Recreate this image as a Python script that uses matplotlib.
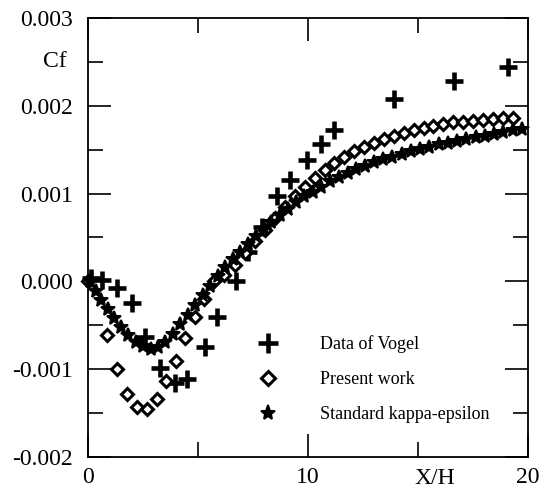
import matplotlib
matplotlib.use("Agg")
import matplotlib.pyplot as plt
import matplotlib.transforms as mtransforms

plt.rcParams['font.family'] = ['Liberation Serif', 'DejaVu Serif']

# Skin friction coefficient behind a backward-facing step
vogel_x = [0.12, 0.65, 1.33, 2.01, 2.58, 3.27, 3.95, 4.48, 5.32, 5.88, 6.73,
           7.29, 7.93, 8.58, 9.18, 9.95, 10.6, 11.2, 13.9, 16.65, 19.1]
vogel_cf = [0.00004, 0.00002, -0.00008, -0.00025, -0.00063, -0.00099, -0.00116,
            -0.00111, -0.00075, -0.00040, 0.00000, 0.00034, 0.00062, 0.00097,
            0.00115, 0.00138, 0.00156, 0.00173, 0.00208, 0.00228, 0.00244]

present_x = [0.0, 0.85, 1.33, 1.77, 2.21, 2.67, 3.12, 3.55, 3.98, 4.41,
             4.86, 5.28, 5.72, 6.2, 6.7, 7.15, 7.6, 8.05, 8.5, 8.95, 9.4, 9.85,
             10.3, 10.75, 11.2, 11.65, 12.1, 12.55, 13.0, 13.45, 13.9, 14.35,
             14.8, 15.25, 15.7, 16.15, 16.6, 17.05, 17.5, 17.95, 18.4, 18.85, 19.3]
present_cf = [0.0, -0.00061, -0.00100, -0.00128, -0.00143, -0.00145,
              -0.00134, -0.00114, -0.00091, -0.00065, -0.00041, -0.00020, 0.00000,
              0.00007, 0.00019, 0.00032, 0.00046, 0.00059, 0.00072, 0.00085,
              0.00097, 0.00108, 0.00118, 0.00127, 0.00135, 0.00142, 0.00148,
              0.00153, 0.00158, 0.00162, 0.00166, 0.00169, 0.00172, 0.00175,
              0.00177, 0.00179, 0.00181, 0.00182, 0.00183, 0.00184, 0.00185,
              0.00186, 0.00186]

keps_x = [0.10, 0.35, 0.60, 0.90, 1.20, 1.52, 1.84, 2.18, 2.51, 2.85, 3.18,
          3.52, 3.86, 4.20, 4.54, 4.88, 5.22, 5.56, 5.90, 6.24, 6.58, 6.92,
          7.27, 7.62, 7.98, 8.34, 8.71, 9.08, 9.46, 9.84, 10.22, 10.61, 11.0,
          11.4, 11.8, 12.2, 12.6, 13.0, 13.42, 13.84, 14.26, 14.68, 15.1,
          15.52, 15.94, 16.36, 16.78, 17.2, 17.62, 18.04, 18.46, 18.88, 19.3,
          19.72]
keps_cf = [0.0, -0.00011, -0.00021, -0.00031, -0.00042, -0.00052, -0.00061,
           -0.00069, -0.00074, -0.00077, -0.00075, -0.00069, -0.00060, -0.00048,
           -0.00038, -0.00027, -0.00016, -0.00005, 0.00006, 0.00016, 0.00025,
           0.00034, 0.00043, 0.00052, 0.00060, 0.00068, 0.00076, 0.00083,
           0.00090, 0.00097, 0.00102, 0.00108, 0.00114, 0.00119, 0.00124,
           0.00128, 0.00132, 0.00136, 0.00139, 0.00142, 0.00145, 0.00148,
           0.00151, 0.00153, 0.00156, 0.00158, 0.00160, 0.00162, 0.00164,
           0.00166, 0.00168, 0.00170, 0.00172, 0.00174]

y_ticks = [-0.002, -0.001, 0.000, 0.001, 0.002, 0.003]
y_ticklabels = ['-0.002', '-0.001', '0.000', '0.001', '0.002', '0.003']
x_ticks = [0, 10, 20]
x_ticklabels = ['0', '10', '20']

fig = plt.figure(figsize=(5.5, 5.0), dpi=100)
ax = fig.add_axes([0.16, 0.086, 0.80, 0.878])

h_vogel, = ax.plot(vogel_x, vogel_cf, linestyle='none', marker='+',
                   markersize=13, markeredgewidth=3.3, color='black',
                   label='Data of Vogel', clip_on=False, zorder=3)
h_present, = ax.plot(present_x, present_cf, linestyle='none', marker='D',
                     markersize=6.3, markeredgewidth=2.2, markerfacecolor='white',
                     markeredgecolor='black', label='Present work',
                     clip_on=False, zorder=4)
h_keps, = ax.plot(keps_x, keps_cf, linestyle='none', marker='*',
                  markersize=10, markeredgewidth=1.4, color='black',
                  label='Standard kappa-epsilon', clip_on=False, zorder=5)

ax.set_xlim(0, 20)
ax.set_ylim(-0.002, 0.003)
ax.set_xticks(x_ticks)
ax.set_xticklabels(x_ticklabels)
ax.set_xticks([5, 15], minor=True)
ax.set_yticks(y_ticks)
ax.set_yticklabels(y_ticklabels)
ax.set_yticks([-0.0015, -0.0005, 0.0005, 0.0015, 0.0025], minor=True)

ax.tick_params(which='both', direction='in', top=True, right=True,
               labelsize=17, width=1.2)
ax.tick_params(which='major', length=16.5)
ax.tick_params(which='minor', length=10.8)
ax.tick_params(axis='y', which='major', pad=11)
ax.tick_params(axis='x', which='major', pad=7)
for s in ax.spines.values():
    s.set_linewidth(1.3)

# axis names placed among the tick labels
ax.text(-0.048, 0.0025, 'Cf', fontsize=17, ha='right', va='center',
        transform=mtransforms.blended_transform_factory(ax.transAxes, ax.transData))
ax.text(15.77, -0.025, 'X/H', fontsize=17, ha='center', va='top',
        transform=mtransforms.blended_transform_factory(ax.transData, ax.transAxes))

ax.legend(handles=[h_vogel, h_present, h_keps], loc='upper left',
          bbox_to_anchor=(0.369, 0.278), frameon=False, fontsize=13,
          handlelength=2.0, handletextpad=1.88, labelspacing=1.0,
          borderaxespad=0.0, borderpad=0.0, markerscale=1.1)

fig.savefig('out.png', dpi=100)
